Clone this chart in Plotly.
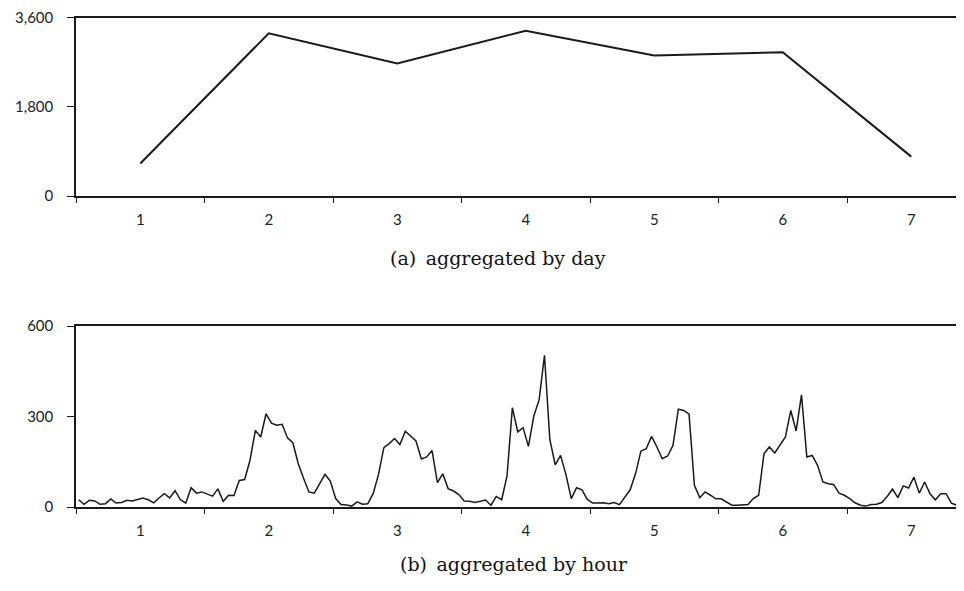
import plotly.graph_objects as go

days = [1, 2, 3, 4, 5, 6, 7]
day_labels = ["1", "2", "3", "4", "5", "6", "7"]
daily_counts = [654, 3280, 2674, 3334, 2834, 2900, 794]

hourly_day1 = [24, 9, 22, 20, 9, 11, 27, 13, 15, 22, 20, 24, 30, 24, 14, 30, 44, 30, 54, 24, 13, 64, 46, 50]
hourly_day2 = [44, 36, 60, 19, 39, 38, 88, 91, 155, 254, 232, 309, 278, 271, 274, 229, 213, 144, 95, 50, 46, 77, 108, 86]
hourly_day3 = [28, 8, 7, 3, 17, 9, 11, 44, 108, 197, 210, 227, 207, 251, 234, 219, 159, 166, 187, 81, 110, 61, 53, 41]
hourly_day4 = [20, 19, 15, 20, 23, 6, 35, 24, 102, 329, 249, 263, 201, 301, 356, 503, 224, 140, 171, 108, 28, 64, 57, 25]
hourly_day5 = [13, 13, 14, 11, 15, 8, 31, 57, 110, 185, 193, 234, 199, 160, 169, 204, 324, 320, 308, 72, 31, 50, 39, 27]
hourly_day6 = [27, 17, 6, 6, 7, 8, 28, 39, 177, 199, 179, 204, 232, 320, 252, 372, 166, 171, 138, 83, 77, 75, 46, 39]
hourly_day7 = [28, 14, 6, 3, 8, 9, 15, 35, 59, 31, 70, 63, 99, 46, 83, 44, 24, 44, 44, 13, 6, 11, 15, 10]

hourly_counts = (hourly_day1 + hourly_day2 + hourly_day3 + hourly_day4
                 + hourly_day5 + hourly_day6 + hourly_day7)
hour_x = [0.5 + (i + 0.5) / 24 for i in range(len(hourly_counts))]

top_ticks = [0, 1800, 3600]
bottom_ticks = [0, 300, 600]
boundaries = [0.5 + k for k in range(8)]

W, H = 964, 591
OFF = 8  # page body margin


def fy(page_y):
    return 1 - (page_y - OFF) / H


def fx(page_x):
    return (page_x - OFF) / W


fig = go.Figure()
fig.add_trace(go.Scatter(x=days, y=daily_counts, mode="lines",
                         line=dict(color="#1a1a1a", width=2), xaxis="x", yaxis="y",
                         showlegend=False, hoverinfo="skip"))
fig.add_trace(go.Scatter(x=hour_x, y=hourly_counts, mode="lines",
                         line=dict(color="#1a1a1a", width=1.5), xaxis="x2", yaxis="y2",
                         showlegend=False, hoverinfo="skip"))

tick_font = dict(family="Lato, 'Open Sans', sans-serif", size=15, color="#222")
left_px = 76
x_right_val = 0.5 + (W + OFF - left_px) / 128.5


def xaxis_cfg(anchor):
    return dict(domain=[fx(left_px), 1], range=[0.5, x_right_val], anchor=anchor,
                automargin=False,
                tickmode="array", tickvals=days, ticktext=day_labels, ticks="",
                showgrid=False, zeroline=False, showline=True, linecolor="#1a1a1a",
                linewidth=2, mirror=True, tickfont=tick_font, ticklabelstandoff=9,
                minor=dict(tickmode="array", tickvals=boundaries, ticks="outside",
                           ticklen=5, tickcolor="#1a1a1a", tickwidth=1, showgrid=False))


def yaxis_cfg(domain, ticks, anchor):
    return dict(domain=domain, range=[0, ticks[-1]], anchor=anchor, tickmode="array",
                automargin=False, ticklabelstandoff=11, ticklabeloverflow="allow",
                tickvals=ticks, tickformat=",", ticks="outside", ticklen=7,
                tickcolor="#1a1a1a", showgrid=False, zeroline=False, showline=True,
                linecolor="#1a1a1a", linewidth=1.5, tickfont=tick_font)


fig.update_layout(
    width=W, height=H, margin=dict(l=0, r=0, t=0, b=0, autoexpand=False),
    paper_bgcolor="white", plot_bgcolor="white",
    xaxis=xaxis_cfg("y"),
    yaxis=yaxis_cfg([fy(196), fy(17.5)], top_ticks, "x"),
    xaxis2=xaxis_cfg("y2"),
    yaxis2=yaxis_cfg([fy(507), fy(326)], bottom_ticks, "x2"),
)

cap_font = dict(family="'DejaVu Serif', serif", size=19, color="#111")
fig.add_annotation(text="(a)\u2002aggregated by day", x=fx(498), y=fy(258),
                   xref="paper", yref="paper", showarrow=False, font=cap_font,
                   xanchor="center", yanchor="middle")
fig.add_annotation(text="(b)\u2002aggregated by hour", x=fx(514), y=fy(564),
                   xref="paper", yref="paper", showarrow=False, font=cap_font,
                   xanchor="center", yanchor="middle")

fig.write_html("out.html")
